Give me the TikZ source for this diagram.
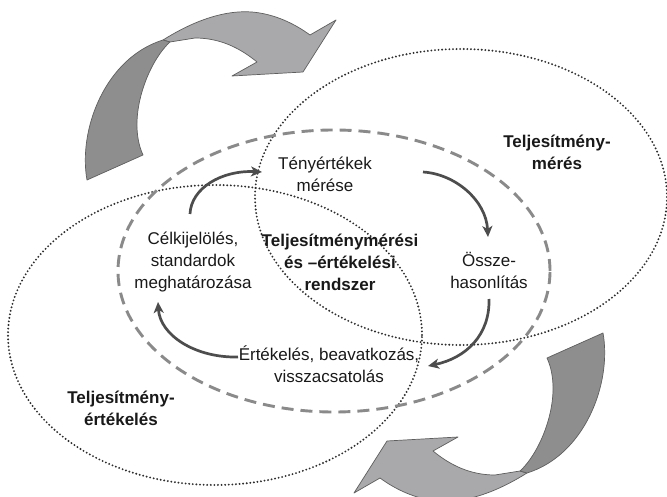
\documentclass[tikz,border=0pt]{standalone}
\usepackage{fontspec}
\setmainfont{Liberation Sans}
\usetikzlibrary{arrows.meta}
\definecolor{dotcol}{HTML}{2E2E2E}
\definecolor{dashcol}{HTML}{8A8A8A}
\definecolor{arrcol}{HTML}{4D4D4D}
\definecolor{ribdark}{HTML}{8E8E8E}
\definecolor{riblight}{HTML}{A9A9AB}
\definecolor{ribedge}{HTML}{5E5E5E}
\begin{document}
\begin{tikzpicture}[x=1pt,y=-1pt,
  dotline/.style={draw=dotcol,line width=2.1pt,line cap=round,dash pattern=on 0pt off 3.6pt},
  dashline/.style={draw=dashcol,line width=2.9pt,dash pattern=on 12pt off 7pt},
  cyclearrow/.style={draw=arrcol,line width=2.7pt,-{Stealth[length=11pt,width=10pt,inset=3pt]}},
  lbl/.style={font=\fontsize{17}{22}\selectfont,align=center,inner sep=1pt,text=black!90},
  blbl/.style={lbl,font=\fontsize{17}{22}\selectfont\bfseries},
  ribedge/.style={draw=ribedge,line width=0.7pt,line join=round}]
\useasboundingbox (0,0) rectangle (667,497);
\fill[white] (0,0) rectangle (667,497);

% ellipses
\draw[dotline] (215,335) ellipse [x radius=207pt, y radius=150pt];
\draw[dotline] (461,197) ellipse [x radius=206pt, y radius=148pt];
\draw[dashline] (334,271) ellipse [x radius=216pt, y radius=141pt];

% big ribbon arrows
\def\ribbon{%
  \filldraw[ribedge,fill=riblight] (163,40) .. controls (195,20) and (225,10) .. (252,12)
     .. controls (275,14) and (295,24) .. (310,35) -- (336,20) -- (303,72) -- (232,76) -- (257,62)
     .. controls (240,48) and (220,38) .. (195,38) -- (170,42) -- cycle;
  \filldraw[ribedge,fill=ribdark] (87,180) .. controls (78,130) and (105,58) .. (163,40)
     -- (170,42) .. controls (148,62) and (126,118) .. (143,155) -- cycle;}
\ribbon
\begin{scope}[rotate around={180:(345,256.5)}]
\ribbon
\end{scope}

% texts
\node[lbl]  (meres)  at (325,174) {Tényértékek\\mérése};
\node[lbl]  (cel)    at (193,262) {Célkijelölés,\\standardok\\meghatározása};
\node[blbl] (rend)   at (340,262) {Teljesítménymérési\\és –értékelési\\rendszer};
\node[lbl]  (ossze)  at (489,270) {Össze-\\hasonlítás};
\node[lbl]  (ert)    at (329,364) {Értékelés, beavatkozás,\\visszacsatolás};
\node[blbl] (tm)     at (557,152) {Teljesítmény-\\mérés};
\node[blbl] (te)     at (121,408) {Teljesítmény-\\értékelés};

% cycle arrows
\coordinate (a1s) at (190,214); \coordinate (a1e) at (262,172);
\coordinate (a2s) at (423,172); \coordinate (a2e) at (488,237);
\coordinate (a3s) at (489,299); \coordinate (a3e) at (428,366);
\coordinate (a4s) at (238,357); \coordinate (a4e) at (158,302);
\draw[cyclearrow] (a1s) .. controls (191,188) and (222,170) .. (a1e);
\draw[cyclearrow] (a2s) .. controls (455,174) and (486,200) .. (a2e);
\draw[cyclearrow] (a3s) .. controls (490,335) and (466,358) .. (a3e);
\draw[cyclearrow] (a4s) .. controls (195,358) and (160,335) .. (a4e);
\end{tikzpicture}
\end{document}
